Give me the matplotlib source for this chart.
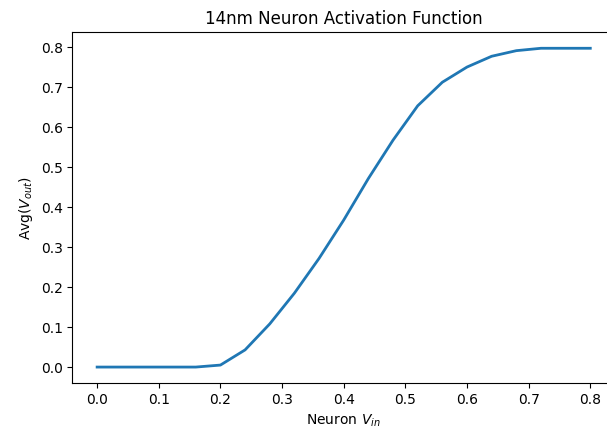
import numpy as np
import matplotlib
matplotlib.use('Agg')
import matplotlib.pyplot as plt

# neuron input voltage sweep and averaged output
v_in = [0.0, 0.04, 0.08, 0.12, 0.16, 0.20, 0.24, 0.28, 0.32, 0.36, 0.40,
        0.44, 0.48, 0.52, 0.56, 0.60, 0.64, 0.68, 0.72, 0.76, 0.80]
avg_v_out = [0.0, 0.0, 0.0, 0.0, 0.0, 0.005, 0.043, 0.108, 0.185, 0.272, 0.368,
             0.472, 0.568, 0.654, 0.713, 0.751, 0.778, 0.792, 0.798, 0.798, 0.798]

fig = plt.figure(figsize=(6.07, 4.34), dpi=100)
ax = fig.add_axes([0.1194, 0.1175, 0.8937, 0.808])
ax.plot(v_in, avg_v_out, linewidth=2)
ax.set_title('14nm Neuron Activation Function')
ax.set_xlabel('Neuron $V_{in}$')
ax.set_ylabel('Avg($V_{out}$)')

fig.savefig('out.png', dpi=100)
